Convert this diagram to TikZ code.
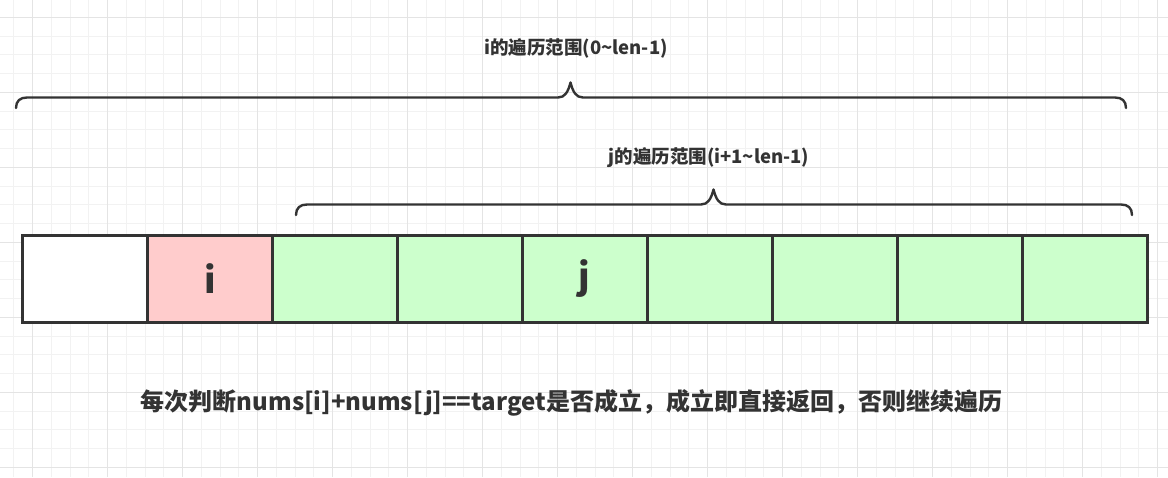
\documentclass[tikz,border=0pt]{standalone}
\usepackage{fontspec}
\setmainfont{Noto Sans CJK SC}
\definecolor{ink}{HTML}{333333}
\definecolor{gminor}{HTML}{F2F2F2}
\definecolor{gmajor}{HTML}{E4E4E4}
\definecolor{pinkfill}{HTML}{FFCCCC}
\definecolor{greenfill}{HTML}{CCFFCC}
\tikzset{
  cell/.style={draw=ink, line width=2.6pt, minimum width=125pt, minimum height=87pt, inner sep=0pt, anchor=north west, font=\fontsize{36}{40}\selectfont\bfseries, text=ink},
  label/.style={font=\fontsize{18.5}{22}\selectfont\bfseries, text=ink, inner sep=0pt},
  note/.style={font=\fontsize{24}{28}\selectfont\bfseries, text=ink, inner sep=0pt},
  brace/.style={draw=ink, line width=2.4pt, line cap=round, line join=round}
}
\begin{document}
\begin{tikzpicture}[x=1pt,y=-1pt]
\useasboundingbox (0,0) rectangle (1168,477);
\fill[white] (0,0) rectangle (1168,477);
% grid
\foreach \k in {0,...,62} {
  \draw[gminor, line width=1pt] ({13.75+18.75*\k},0) -- ({13.75+18.75*\k},477);
}
\foreach \k in {0,...,25} {
  \draw[gminor, line width=1pt] (0,{17.3+18.75*\k}) -- (1168,{17.3+18.75*\k});
}
\foreach \k in {0,...,15} {
  \draw[gmajor, line width=1pt] ({32.5+75*\k},0) -- ({32.5+75*\k},477);
}
\foreach \k in {0,...,6} {
  \draw[gmajor, line width=1pt] (0,{17.3+75*\k}) -- (1168,{17.3+75*\k});
}
% braces
\draw[brace] (16,108) .. controls (16,101) and (20,97.5) .. (27,97.5) -- (558,97.5)
  .. controls (565,97.5) and (568,92) .. (570.5,82.5)
  .. controls (573,92) and (576,97.5) .. (583,97.5) -- (1115,97.5)
  .. controls (1122,97.5) and (1126,101) .. (1126,108);
\draw[brace] (296,215) .. controls (296,208) and (300,204.5) .. (307,204.5) -- (701,204.5)
  .. controls (708,204.5) and (711,199) .. (713.5,189.5)
  .. controls (716,199) and (719,204.5) .. (726,204.5) -- (1121,204.5)
  .. controls (1128,204.5) and (1132,208) .. (1132,215);
% labels
\node[label] (lbi) at (576,48) {i的遍历范围(0\textasciitilde len-1)};
\node[label] (lbj) at (709,158) {j的遍历范围(i+1\textasciitilde len-1)};
% cells
\node[cell, fill=white] (c0) at (21,234) {};
\node[cell, fill=pinkfill] (c1) at (146,234) {};
\node[cell, fill=greenfill] (c2) at (271,234) {};
\node[cell, fill=greenfill] (c3) at (396,234) {};
\node[cell, fill=greenfill] (c4) at (521,234) {};
\node[cell, fill=greenfill] (c5) at (646,234) {};
\node[cell, fill=greenfill] (c6) at (771,234) {};
\node[cell, fill=greenfill] (c7) at (896,234) {};
\node[cell, fill=greenfill] (c8) at (1021,234) {};
\node[font=\fontsize{36}{40}\selectfont\bfseries, text=ink, inner sep=0pt] (ti) at (c1.center) {i};
\node[font=\fontsize{36}{40}\selectfont\bfseries, text=ink, inner sep=0pt] (tj) at (c4.center) {j};
% note
\node[note] (nt) at (571.5,403) {每次判断nums[i]+nums[j]==target是否成立，成立即直接返回，否则继续遍历};
\end{tikzpicture}
\end{document}
